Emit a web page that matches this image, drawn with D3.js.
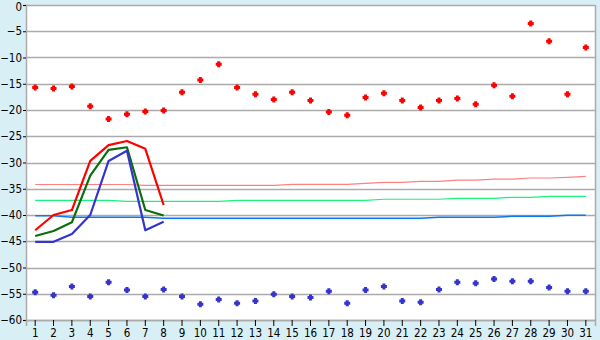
<!DOCTYPE html>
<html>
<head>
<meta charset="utf-8">
<script src="https://cdn.jsdelivr.net/npm/d3@7"></script>
<style>
  html, body { margin: 0; padding: 0; background: #d9eff6; }
  svg { display: block; }
  .tick text { font-family: "DejaVu Sans Condensed", "DejaVu Sans", sans-serif; font-size: 11.5px; fill: #000; }
</style>
</head>
<body>
<svg id="chart" width="600" height="340"></svg>
<script>
// days of the month
const days = d3.range(1, 32);
const yTicks = [0, -5, -10, -15, -20, -25, -30, -35, -40, -45, -50, -55, -60];

// daily maxima / minima (markers)
const redPoints = [-15.7, -15.9, -15.5, -19.3, -21.7, -20.8, -20.3, -20.1, -16.6, -14.3,
  -11.3, -15.7, -17.0, -18.0, -16.6, -18.2, -20.4, -21.0, -17.6, -16.8,
  -18.2, -19.5, -18.2, -17.8, -18.9, -15.3, -17.4, -3.5, -6.9, -17.0, -8.1];
const bluePoints = [-54.7, -55.3, -53.6, -55.5, -52.8, -54.3, -55.5, -54.2, -55.5, -57.0,
  -56.1, -56.8, -56.4, -55.1, -55.5, -55.7, -54.5, -56.8, -54.3, -53.6,
  -56.4, -56.6, -54.2, -52.8, -53.0, -52.2, -52.6, -52.6, -53.8, -54.5, -54.5];

// first 8 days, thick lines
const redLine   = [-42.9, -40.0, -39.05, -29.7, -26.7, -25.9, -27.4, -38.1];
const greenLine = [-44.0, -43.05, -41.4, -32.5, -27.6, -27.1, -39.05, -40.1];
const blueLine  = [-45.1, -45.1, -43.6, -40.0, -29.7, -27.75, -42.9, -41.3];

// thin reference lines, full month
const pinkRef = [-34.19, -34.19, -34.19, -34.19, -34.19, -34.19, -34.34, -34.34, -34.34, -34.34,
  -34.34, -34.34, -34.34, -34.34, -34.15, -34.15, -34.15, -34.15, -33.96, -33.77,
  -33.77, -33.58, -33.58, -33.37, -33.37, -33.18, -33.18, -32.95, -32.95, -32.82, -32.63];
const greenRef = [-37.2, -37.2, -37.2, -37.2, -37.2, -37.39, -37.39, -37.39, -37.39, -37.39,
  -37.39, -37.2, -37.2, -37.2, -37.2, -37.2, -37.2, -37.2, -37.2, -37.0,
  -37.0, -37.0, -37.0, -36.82, -36.82, -36.82, -36.63, -36.63, -36.44, -36.44, -36.44];
const blueRef = [-40.13, -40.13, -40.44, -40.44, -40.44, -40.44, -40.44, -40.63, -40.63, -40.63,
  -40.63, -40.63, -40.63, -40.63, -40.63, -40.63, -40.63, -40.63, -40.63, -40.63,
  -40.63, -40.63, -40.44, -40.44, -40.44, -40.44, -40.25, -40.25, -40.25, -40.06, -40.06];

const svg = d3.select('#chart');
const L = 26, R = 595, T = 5, B = 320;

const x = d3.scaleBand().domain(days).range([L, R]);
const cx = d => x(d) + x.bandwidth() / 2;
const y = d3.scaleLinear().domain([-60, 0]).range([B, T]);

// plot background
svg.append('rect').attr('x', L).attr('y', T).attr('width', R - L).attr('height', B - T)
  .attr('fill', '#fff');

// gridlines
svg.append('g').selectAll('line').data(yTicks).join('line')
  .attr('x1', L).attr('x2', R)
  .attr('y1', d => Math.round(y(d)) + 0.5).attr('y2', d => Math.round(y(d)) + 0.5)
  .attr('stroke', '#ababab').attr('stroke-width', 1.5);

// right border
svg.append('line').attr('x1', R + 0.5).attr('x2', R + 0.5).attr('y1', T).attr('y2', B)
  .attr('stroke', '#ababab').attr('stroke-width', 1.5);

// axes
const yAxis = svg.append('g').attr('transform', `translate(${L},0)`)
  .call(d3.axisLeft(y).tickValues(yTicks).tickSize(3).tickPadding(1)
    .tickFormat(d => d === 0 ? '0' : '\u2212' + Math.abs(d)));
yAxis.select('.domain').attr('stroke', '#ababab').attr('stroke-width', 1.5);
yAxis.selectAll('.tick line').attr('stroke', '#000');
// top label sits against the edge; nudge it down a touch
yAxis.selectAll('.tick').filter(d => d === 0).select('text').attr('dy', '0.45em');

const xAxis = svg.append('g').attr('transform', `translate(0,${B})`)
  .call(d3.axisBottom(x).tickSize(6).tickPadding(3));
xAxis.select('.domain').attr('stroke', '#ababab').attr('stroke-width', 1.5);
xAxis.selectAll('.tick line').attr('stroke', '#000');

// thin reference lines
const line = d3.line().x((v, i) => cx(days[i])).y(v => y(v));
[[pinkRef, '#ff8080', 1.2], [greenRef, '#19f27d', 1.2], [blueRef, '#0a78f0', 1.6]].forEach(([vals, col, w]) => {
  svg.append('path').datum(vals).attr('d', line)
    .attr('fill', 'none').attr('stroke', col).attr('stroke-width', w);
});

// thick lines for first days
[[redLine, '#ff0000'], [greenLine, '#0b6e0b'], [blueLine, '#3434cc']].forEach(([vals, col]) => {
  svg.append('path').datum(vals).attr('d', line)
    .attr('fill', 'none').attr('stroke', col).attr('stroke-width', 2.2)
    .attr('stroke-linejoin', 'round');
});

// point markers: chunky plus sign
const plus = {
  draw(ctx) {
    const a = 1.5, b = 3;
    ctx.moveTo(-a, -b); ctx.lineTo(a, -b); ctx.lineTo(a, -a); ctx.lineTo(b, -a);
    ctx.lineTo(b, a); ctx.lineTo(a, a); ctx.lineTo(a, b); ctx.lineTo(-a, b);
    ctx.lineTo(-a, a); ctx.lineTo(-b, a); ctx.lineTo(-b, -a); ctx.lineTo(-a, -a);
    ctx.closePath();
  }
};
const sym = d3.symbol().type(plus);
[[redPoints, '#ff0000'], [bluePoints, '#3434cc']].forEach(([vals, col]) => {
  svg.append('g').selectAll('path').data(vals).join('path')
    .attr('transform', (v, i) => `translate(${cx(days[i])},${y(v)})`)
    .attr('d', sym)
    .attr('fill', col);
});
</script>
</body>
</html>
